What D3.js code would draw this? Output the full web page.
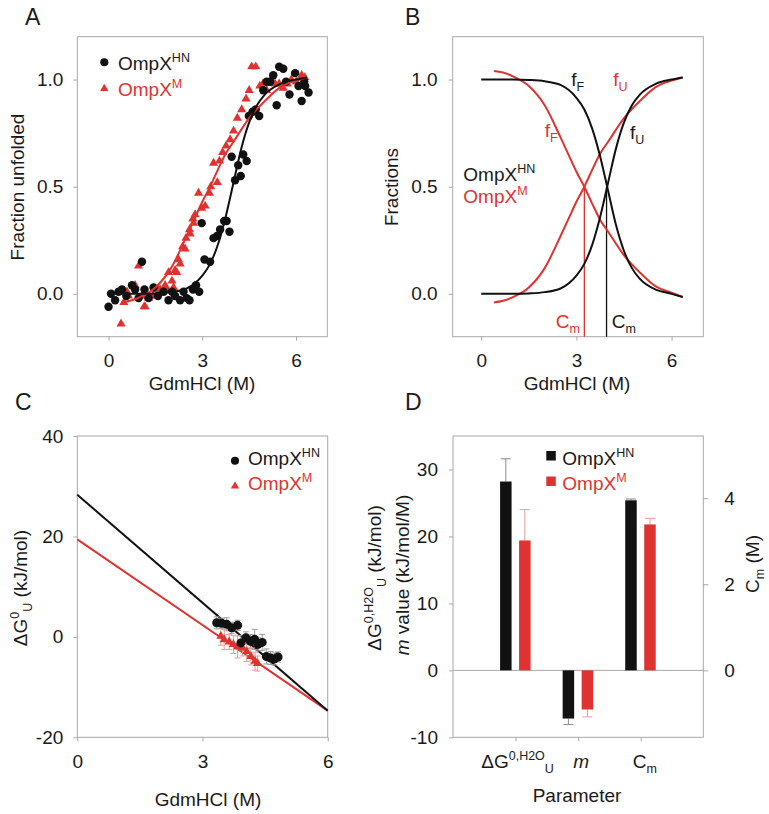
<!DOCTYPE html>
<html><head><meta charset="utf-8">
<script src="https://cdn.jsdelivr.net/npm/d3@7"></script>
<style>
body{margin:0;background:#fff;}
svg text{font-family:"Liberation Sans", Arial, Helvetica, sans-serif;}
</style></head><body>
<svg id="chart" width="769" height="814"></svg>
<script>
// ---------- DATA ----------
// Panel A: fraction unfolded vs GdmHCl
const hnX = [0.0,0.08,0.21,0.32,0.43,0.57,0.75,0.85,0.96,1.07,1.15,1.28,1.44,1.58,1.76,1.92,2.03,2.13,2.29,2.40,2.50,2.59,2.70,2.80,2.90,2.98,3.07,3.25,3.36,3.47,3.57,3.70,3.78,3.87,3.94,4.05,4.15,4.23,4.31,4.42,4.49,4.61,4.71,4.82,4.95,5.06,5.17,5.27,5.38,5.46,5.59,5.68,5.79,5.97,6.08,6.18,6.26,6.29,6.40];
const hnY = [-0.06,0.0,-0.03,0.01,0.02,-0.01,0.04,0.02,-0.02,0.15,0.02,-0.02,0.03,-0.01,0.01,-0.03,0.01,-0.01,-0.03,0.01,-0.02,-0.03,0.02,0.04,0.01,0.33,0.16,0.15,0.26,0.27,0.30,0.34,0.34,0.29,0.64,0.53,0.60,0.55,0.65,0.62,0.83,0.85,0.86,0.83,0.95,0.99,0.99,1.02,0.88,1.06,1.05,0.99,0.93,1.03,0.97,0.90,0.99,0.97,0.94];
const mX = [0.40,0.49,0.59,0.64,0.85,0.96,1.07,1.14,1.17,1.28,1.42,1.55,1.60,1.65,1.81,1.87,1.92,2.03,2.08,2.13,2.18,2.24,2.29,2.37,2.45,2.48,2.59,2.61,2.70,2.72,2.77,2.88,2.98,3.09,3.23,3.27,3.36,3.48,3.55,3.65,3.76,3.89,4.00,4.12,4.26,4.40,4.50,4.58,4.71,4.84,4.94,5.06,5.19,5.33,5.46,5.59,5.72,5.85,6.01,6.18,6.28];
const mY = [-0.14,-0.04,0.01,-0.01,0.04,0.13,-0.01,-0.06,-0.06,-0.02,-0.01,-0.01,0.02,0.02,0.04,0.02,0.10,0.06,0.03,0.11,0.10,0.16,0.14,0.22,0.21,0.26,0.30,0.28,0.35,0.33,0.37,0.47,0.40,0.41,0.47,0.50,0.61,0.52,0.62,0.66,0.69,0.72,0.76,0.82,0.86,0.91,0.95,1.06,1.06,0.97,0.98,0.95,1.00,0.98,0.98,0.96,0.98,1.00,0.99,1.02,1.01];

const curveX_HN = [0,0.5,1,1.5,2,2.5,3,3.25,3.5,3.75,4,4.25,4.5,4.75,5,5.5,6,6.35];
const fitFU_HN  = [0,0,0,0.002,0.008,0.025,0.085,0.14,0.23,0.36,0.52,0.68,0.80,0.88,0.93,0.98,1.0,1.01];
const fitFF_HN  = [1.0,1.0,1.0,0.998,0.992,0.975,0.915,0.86,0.77,0.64,0.48,0.32,0.20,0.12,0.07,0.02,0.0,-0.015];
const curveX_M  = [0.4,0.75,1,1.5,2,2.5,2.75,3,3.25,3.5,3.75,4,4.5,5,5.5,6,6.35];
const fitFU_M   = [-0.04,-0.03,-0.015,0.03,0.12,0.27,0.35,0.43,0.50,0.58,0.655,0.71,0.82,0.90,0.965,0.995,1.01];
const fitFF_M   = [1.04,1.03,1.015,0.97,0.88,0.73,0.65,0.57,0.50,0.42,0.345,0.29,0.18,0.10,0.035,0.005,-0.015];
const cmLines   = [3.95, 3.25]; // HN, M

// Panel C: ΔG vs GdmHCl
const cHnX = [3.34,3.46,3.58,3.70,3.84,3.92,4.04,4.15,4.25,4.33,4.43,4.53,4.63,4.72,4.81];
const cHnY = [2.8,2.7,2.5,1.8,2.3,-1.2,-0.2,-0.9,-0.5,-1.5,-1.1,-3.9,-4.2,-4.4,-4.0];
const cHnE = [1.2,1.0,1.3,1.1,1.0,1.5,1.2,1.4,2.0,1.3,1.6,1.5,1.3,1.2,1.0];
const cMX  = [3.44,3.52,3.64,3.74,3.84,3.96,4.06,4.16,4.26,4.32];
const cMY  = [0.13,-0.53,-1.0,-1.5,-2.0,-2.2,-2.9,-3.9,-4.85,-5.3];
const cME  = [1.8,2.0,1.5,1.8,2.2,1.6,2.0,1.7,1.8,1.5];
const lineHN = [[0,28.3],[6,-14.7]];
const lineM  = [[0,19.4],[6,-14.7]];

// Panel D: parameters
const params = ["dG","m","Cm"];
const valHN = [28.2,-7.2,3.95];
const errHN = [3.4,0.9,0.03];
const valM  = [19.4,-5.85,3.39];
const errM  = [4.6,1.1,0.14];

// ---------- STYLE ----------
const BLK = "#111", RED = "#de3330", FRAME = "#a8a8a8", TXT = "#1a1a1a";
const FS = 19, SFS = 12.5;
const plain = d => String(d);
const svg = d3.select("#chart");
svg.append("rect").attr("width",769).attr("height",814).attr("fill","#fff");

function rich(sel, x, y, parts, o = {}) {
  const t = sel.append("text").attr("x", x).attr("y", y)
    .attr("font-size", o.fs || FS).attr("fill", o.fill || TXT)
    .attr("text-anchor", o.anchor || "start");
  if (o.transform) t.attr("transform", o.transform);
  let cur = 0;
  parts.forEach(p => {
    const [str, kind, ital] = Array.isArray(p) ? p : [p, null, false];
    const shift = kind === "sup" ? -8 : kind === "sub" ? 5 : 0;
    const ts = t.append("tspan").text(str).attr("dy", shift - cur);
    if (kind) ts.attr("font-size", SFS);
    if (ital) ts.attr("font-style", "italic");
    cur = shift;
  });
  return t;
}

function styleAxis(g) {
  g.select(".domain").remove();
  g.selectAll(".tick line").attr("stroke", FRAME);
  g.selectAll(".tick text").attr("font-size", FS).attr("fill", TXT)
    .attr("font-family", '"Liberation Sans", Arial, sans-serif');
}
function frame(x, y) {
  svg.append("rect").attr("x", x.range()[0]).attr("y", y.range()[1])
    .attr("width", x.range()[1] - x.range()[0]).attr("height", y.range()[0] - y.range()[1])
    .attr("fill", "none").attr("stroke", FRAME).attr("stroke-width", 1);
}
const tri = d3.symbol().type(d3.symbolTriangle);
const circ = d3.symbol().type(d3.symbolCircle);

// ---------- PANEL A ----------
const xA = d3.scaleLinear().domain([-1, 7]).range([77.3, 327.3]);
const yA = d3.scaleLinear().domain([-0.2, 1.2]).range([336.7, 36.7]);
frame(xA, yA);
svg.append("g").attr("transform", "translate(0,336.7)")
  .call(d3.axisBottom(xA).tickValues([0, 3, 6]).tickSize(4).tickPadding(13).tickFormat(plain)).call(styleAxis);
svg.append("g").attr("transform", "translate(77.3,0)")
  .call(d3.axisLeft(yA).tickValues([0, 0.5, 1]).tickSize(4).tickPadding(10).tickFormat(d => d.toFixed(1))).call(styleAxis);

const lineA = (xs, ys, xs_, ys_) => d3.line().curve(d3.curveMonotoneX).x((d, i) => xs_(xs[i])).y(d => ys_(d))(ys);

const gA = svg.append("g");
gA.selectAll(".mA").data(mX).join("path")
  .attr("d", tri.size(36)).attr("fill", RED)
  .attr("transform", (d, i) => `translate(${xA(d)},${yA(mY[i])})`);
gA.selectAll(".hA").data(hnX).join("path")
  .attr("d", circ.size(56)).attr("fill", BLK)
  .attr("transform", (d, i) => `translate(${xA(d)},${yA(hnY[i])})`);
gA.append("path").attr("d", lineA(curveX_M, fitFU_M, xA, yA)).attr("fill", "none").attr("stroke", RED).attr("stroke-width", 2);
gA.append("path").attr("d", lineA(curveX_HN, fitFU_HN, xA, yA)).attr("fill", "none").attr("stroke", BLK).attr("stroke-width", 2);

// legend A
svg.append("path").attr("d", circ.size(52)).attr("fill", BLK).attr("transform", "translate(104.3,62.3)");
rich(svg, 118, 70, ["OmpX", ["HN", "sup"]]);
svg.append("path").attr("d", tri.size(30)).attr("fill", RED).attr("transform", "translate(104.3,88.5)");
rich(svg, 118, 96, ["OmpX", ["M", "sup"]], { fill: RED });

rich(svg, 0, 0, ["Fraction unfolded"], { anchor: "middle", transform: "translate(24,187) rotate(-90)" });
rich(svg, 202, 390, ["GdmHCl (M)"], { anchor: "middle" });
rich(svg, 25, 25, ["A"], { fs: 23 });

// ---------- PANEL B ----------
const xB = d3.scaleLinear().domain([-0.9, 7]).range([452.7, 703.3]);
const yB = d3.scaleLinear().domain([-0.2, 1.2]).range([336.7, 36.7]);
frame(xB, yB);
svg.append("g").attr("transform", "translate(0,336.7)")
  .call(d3.axisBottom(xB).tickValues([0, 3, 6]).tickSize(4).tickPadding(13).tickFormat(plain)).call(styleAxis);
svg.append("g").attr("transform", "translate(452.7,0)")
  .call(d3.axisLeft(yB).tickValues([0, 0.5, 1]).tickSize(4).tickPadding(11).tickFormat(d => d.toFixed(1))).call(styleAxis);

// Cm lines
svg.append("line").attr("x1", xB(cmLines[1])).attr("x2", xB(cmLines[1])).attr("y1", yB(0.5)).attr("y2", yB(-0.2))
  .attr("stroke", RED).attr("stroke-width", 1.3);
svg.append("line").attr("x1", xB(cmLines[0])).attr("x2", xB(cmLines[0])).attr("y1", yB(0.5)).attr("y2", yB(-0.2))
  .attr("stroke", BLK).attr("stroke-width", 1.3);
[[curveX_M, fitFF_M, RED], [curveX_M, fitFU_M, RED], [curveX_HN, fitFF_HN, BLK], [curveX_HN, fitFU_HN, BLK]].forEach(([xs, ys, c]) => {
  svg.append("path").attr("d", lineA(xs, ys, xB, yB)).attr("fill", "none").attr("stroke", c).attr("stroke-width", 2);
});
rich(svg, 571.3, 86, ["f", ["F", "sub"]]);
rich(svg, 613.3, 86, ["f", ["U", "sub"]], { fill: RED });
rich(svg, 544.7, 136.7, ["f", ["F", "sub"]], { fill: RED });
rich(svg, 630, 139, ["f", ["U", "sub"]]);
rich(svg, 463.3, 180.5, ["OmpX", ["HN", "sup"]]);
rich(svg, 463.3, 202.5, ["OmpX", ["M", "sup"]], { fill: RED });
rich(svg, 555.7, 328, ["C", ["m", "sub"]], { fill: RED });
rich(svg, 611.7, 328, ["C", ["m", "sub"]]);
rich(svg, 0, 0, ["Fractions"], { anchor: "middle", transform: "translate(398,187) rotate(-90)" });
rich(svg, 577, 390, ["GdmHCl (M)"], { anchor: "middle" });
rich(svg, 405, 25, ["B"], { fs: 23 });

// ---------- PANEL C ----------
const xC = d3.scaleLinear().domain([0, 6]).range([77.3, 327.7]);
const yC = d3.scaleLinear().domain([-20, 40]).range([737.3, 436]);
frame(xC, yC);
svg.append("g").attr("transform", "translate(0,737.3)")
  .call(d3.axisBottom(xC).tickValues([0, 3, 6]).tickSize(4).tickPadding(13).tickFormat(plain)).call(styleAxis);
svg.append("g").attr("transform", "translate(77.3,0)")
  .call(d3.axisLeft(yC).tickValues([-20, 0, 20, 40]).tickSize(4).tickPadding(10).tickFormat(plain)).call(styleAxis);

const straight = d3.line().x(d => xC(d[0])).y(d => yC(d[1]));
svg.append("path").attr("d", straight(lineM)).attr("stroke", RED).attr("stroke-width", 2).attr("fill", "none");
svg.append("path").attr("d", straight(lineHN)).attr("stroke", BLK).attr("stroke-width", 2).attr("fill", "none");

function errBars(xs, ys, es, color) {
  const g = svg.append("g").attr("stroke", color).attr("stroke-width", 1);
  xs.forEach((x, i) => {
    const px = xC(x), y0 = yC(ys[i] - es[i]), y1 = yC(ys[i] + es[i]);
    g.append("line").attr("x1", px).attr("x2", px).attr("y1", y0).attr("y2", y1);
    g.append("line").attr("x1", px - 3).attr("x2", px + 3).attr("y1", y0).attr("y2", y0);
    g.append("line").attr("x1", px - 3).attr("x2", px + 3).attr("y1", y1).attr("y2", y1);
  });
}
errBars(cHnX, cHnY, cHnE, "#9a9a9a");
errBars(cMX, cMY, cME, "#eb9a98");
svg.selectAll(".cM").data(cMX).join("path").attr("d", tri.size(36)).attr("fill", RED)
  .attr("transform", (d, i) => `translate(${xC(d)},${yC(cMY[i])})`);
svg.selectAll(".cH").data(cHnX).join("path").attr("d", circ.size(64)).attr("fill", BLK)
  .attr("transform", (d, i) => `translate(${xC(d)},${yC(cHnY[i])})`);

svg.append("path").attr("d", circ.size(52)).attr("fill", BLK).attr("transform", "translate(235,460.7)");
rich(svg, 248, 465, ["OmpX", ["HN", "sup"]]);
svg.append("path").attr("d", tri.size(30)).attr("fill", RED).attr("transform", "translate(235,486)");
rich(svg, 248, 490, ["OmpX", ["M", "sup"]], { fill: RED });
rich(svg, 0, 0, ["ΔG", ["0", "sup"], ["U", "sub"], " (kJ/mol)"], { anchor: "middle", transform: "translate(27,588) rotate(-90)" });
rich(svg, 208, 806, ["GdmHCl (M)"], { anchor: "middle" });
rich(svg, 15, 410, ["C"], { fs: 23 });

// ---------- PANEL D ----------
const xD = d3.scalePoint().domain(params).range([453, 703.3]).padding(1);
const sub = d3.scaleBand().domain(["HN", "M"]).range([-15.5, 15]).paddingInner(0.395);
const yD = d3.scaleLinear().domain([-10, 35]).range([737.3, 436]);
const yDR = d3.scaleLinear().domain([-10 * 7 / 45, 35 * 7 / 45]).range([737.3, 436]);
frame({ range: () => [453, 703.3] }, yD);
svg.append("line").attr("x1", 453).attr("x2", 703.3).attr("y1", yD(0)).attr("y2", yD(0)).attr("stroke", FRAME);
svg.append("g").attr("transform", "translate(453,0)")
  .call(d3.axisLeft(yD).tickValues([-10, 0, 10, 20, 30]).tickSize(4).tickPadding(11).tickFormat(plain)).call(styleAxis);
svg.append("g").attr("transform", "translate(703.3,0)")
  .call(d3.axisRight(yDR).tickValues([0, 2, 4]).tickSize(5).tickPadding(16).tickFormat(plain)).call(styleAxis);
svg.append("g").attr("transform", "translate(0,737.3)")
  .call(d3.axisBottom(xD).tickSize(4).tickFormat("")).call(styleAxis);

const seriesD = [["HN", valHN, errHN, BLK, "#8a8a8a"], ["M", valM, errM, RED, "#eb9a98"]];
seriesD.forEach(([key, vals, errs, col, ecol]) => {
  params.forEach((p, i) => {
    const sc = p === "Cm" ? yDR : yD;
    const v = vals[i], e = errs[i];
    const x0 = xD(p) + sub(key), w = sub.bandwidth(), cx = x0 + w / 2;
    const tip = v >= 0 ? v + e : v - e;
    svg.append("line").attr("x1", cx).attr("x2", cx).attr("y1", sc(v)).attr("y2", sc(tip)).attr("stroke", ecol).attr("stroke-width", 1);
    svg.append("line").attr("x1", cx - 5).attr("x2", cx + 5).attr("y1", sc(tip)).attr("y2", sc(tip)).attr("stroke", ecol).attr("stroke-width", 1);
    svg.append("rect").attr("x", x0).attr("width", w)
      .attr("y", Math.min(sc(v), sc(0))).attr("height", Math.abs(sc(v) - sc(0))).attr("fill", col);
  });
});
// category labels
rich(svg, xD("dG") + 2, 768, ["ΔG", ["0,H2O", "sup"], ["U", "sub"]], { anchor: "middle" });
rich(svg, xD("m") + 3, 768, [["m", null, true]], { anchor: "middle" });
rich(svg, xD("Cm") + 4, 768, ["C", ["m", "sub"]], { anchor: "middle" });
rich(svg, 577, 802, ["Parameter"], { anchor: "middle" });

svg.append("rect").attr("x", 546.3).attr("y", 451).attr("width", 9.5).attr("height", 9.5).attr("fill", BLK);
rich(svg, 562.3, 465, ["OmpX", ["HN", "sup"]]);
svg.append("rect").attr("x", 546.3).attr("y", 476.5).attr("width", 9.5).attr("height", 9.5).attr("fill", RED);
rich(svg, 562.3, 490, ["OmpX", ["M", "sup"]], { fill: RED });

rich(svg, 0, 0, ["ΔG", ["0,H2O", "sup"], ["U", "sub"], " (kJ/mol)"], { anchor: "middle", transform: "translate(381,578) rotate(-90)" });
rich(svg, 0, 0, [["m", null, true], " value (kJ/mol/M)"], { anchor: "middle", transform: "translate(409,575) rotate(-90)" });
rich(svg, 0, 0, ["C", ["m", "sub"], " (M)"], { anchor: "middle", transform: "translate(759,564) rotate(-90)" });
rich(svg, 405, 410, ["D"], { fs: 23 });
</script>
</body></html>
